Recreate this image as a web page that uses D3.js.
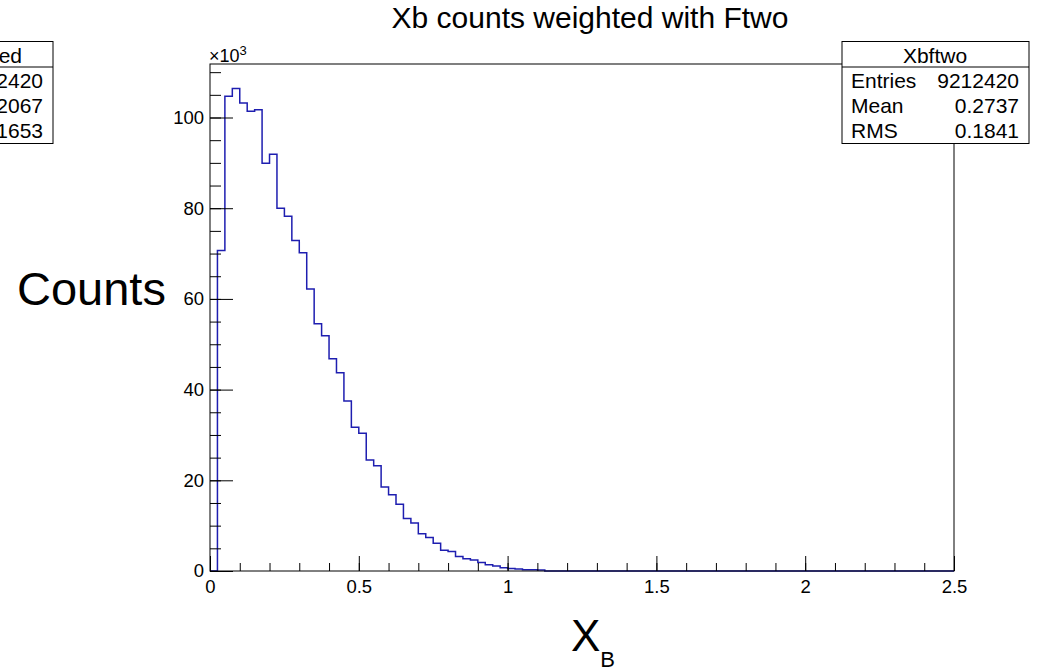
<!DOCTYPE html>
<html>
<head>
<meta charset="utf-8">
<script src="https://cdn.jsdelivr.net/npm/d3@7"></script>
<style>
  body { margin: 0; background: #fff; }
  svg { display: block; font-family: "Liberation Sans", Arial, sans-serif; }
</style>
</head>
<body>
<svg id="chart" width="1039" height="670"></svg>
<script>
// histogram: 100 bins from 0 to 2.5, counts in units of 10^3
var xRange = [0, 2.5];
var counts = [
    0, 70.7, 104.7, 106.4, 103.2, 101.4, 101.7, 89.9, 91.9, 80.0,
    78.2, 72.9, 70.2, 62.2, 54.5, 51.9, 46.8, 43.7, 37.5, 31.7,
    30.4, 24.5, 23.2, 18.5, 16.8, 14.7, 11.6, 10.6, 8.2, 7.4,
    6.1, 4.6, 4.3, 3.2, 2.7, 2.4, 1.9, 1.4, 1.1, 0.7,
    0.55, 0.45, 0.3, 0.25, 0.2, 0, 0, 0, 0, 0,
    0, 0, 0, 0, 0, 0, 0, 0, 0, 0,
    0, 0, 0, 0, 0, 0, 0, 0, 0, 0,
    0, 0, 0, 0, 0, 0, 0, 0, 0, 0,
    0, 0, 0, 0, 0, 0, 0, 0, 0, 0,
    0, 0, 0, 0, 0, 0, 0, 0, 0, 0
];
var xMajor = [0, 0.5, 1, 1.5, 2, 2.5];
var yMajor = [0, 20, 40, 60, 80, 100];
var statsLabels = ["Entries", "Mean", "RMS"];
var statsValues = ["9212420", "0.2737", "0.1841"];
var otherStats = ["9212420", "0.2067", "0.1653"];

var frame = {left: 210, right: 954, top: 64, bottom: 571};

var x = d3.scaleLinear().domain(xRange).range([frame.left, frame.right]);
var y = d3.scaleLinear().domain([0, 111.8]).range([frame.bottom, frame.top]);

var svg = d3.select("#chart");
var binW = (xRange[1] - xRange[0]) / counts.length;

// step line
var pts = counts.map(function(c, i) { return [xRange[0] + i * binW, c]; });
pts.push([xRange[1], counts[counts.length - 1]]);

var line = d3.line()
    .x(function(d) { return x(d[0]); })
    .y(function(d) { return y(d[1]); })
    .curve(d3.curveStepAfter);

svg.append("path")
    .datum(pts)
    .attr("d", line)
    .attr("fill", "none")
    .attr("stroke", "#1e1eb0")
    .attr("stroke-width", 1.5);

// frame
svg.append("rect")
    .attr("x", frame.left).attr("y", frame.top)
    .attr("width", frame.right - frame.left)
    .attr("height", frame.bottom - frame.top)
    .attr("fill", "none").attr("stroke", "#000");

// x axis
var xMinor = d3.range(0, 26).map(function(i) { return i / 10; });
svg.append("g")
    .attr("transform", "translate(0," + frame.bottom + ")")
    .call(d3.axisBottom(x).tickValues(xMinor).tickSize(-8).tickFormat(""))
    .call(function(g) { g.select(".domain").remove(); });
svg.append("g")
    .attr("class", "xaxis")
    .attr("transform", "translate(0," + frame.bottom + ")")
    .call(d3.axisBottom(x).tickValues(xMajor).tickSize(-15).tickPadding(9)
        .tickFormat(d3.format("~g")))
    .call(function(g) { g.select(".domain").remove(); });

// y axis
var yMinor = d3.range(0, 23).map(function(i) { return i * 5; });
svg.append("g")
    .attr("transform", "translate(" + frame.left + ",0)")
    .call(d3.axisLeft(y).tickValues(yMinor).tickSize(-11).tickFormat(""))
    .call(function(g) { g.select(".domain").remove(); });
svg.append("g")
    .attr("class", "yaxis")
    .attr("transform", "translate(" + frame.left + ",0)")
    .call(d3.axisLeft(y).tickValues(yMajor).tickSize(-23).tickPadding(6))
    .call(function(g) { g.select(".domain").remove(); });

svg.selectAll(".xaxis text, .yaxis text")
    .attr("font-size", 18.5)
    .attr("font-family", "Liberation Sans, Arial, sans-serif")
    .attr("fill", "#000");
svg.selectAll(".tick line").attr("stroke", "#000");

// x10^3
var mult = svg.append("text")
    .attr("x", 209).attr("y", 62)
    .attr("font-size", 18);
mult.append("tspan").text("\u00d710");
mult.append("tspan").attr("dy", -7).attr("font-size", 13).text("3");

// title
svg.append("text")
    .attr("x", 590).attr("y", 28)
    .attr("text-anchor", "middle")
    .attr("font-size", 30)
    .text("Xb counts weighted with Ftwo");

// axis titles
svg.append("text")
    .attr("x", 17).attr("y", 305)
    .attr("font-size", 47)
    .text("Counts");
var xt = svg.append("text")
    .attr("x", 571).attr("y", 651)
    .attr("font-size", 44);
xt.append("tspan").text("X");
xt.append("tspan").attr("dy", 16).attr("font-size", 22).text("B");

// stats boxes
function statsBox(left, width, title, labels, values, titleAnchorX, titleAnchor) {
    var g = svg.append("g");
    g.append("rect")
        .attr("x", left).attr("y", 41.5)
        .attr("width", width).attr("height", 102)
        .attr("fill", "#fff").attr("stroke", "#000");
    g.append("line")
        .attr("x1", left).attr("x2", left + width)
        .attr("y1", 67).attr("y2", 67)
        .attr("stroke", "#000");
    g.append("text")
        .attr("x", titleAnchorX).attr("y", 63)
        .attr("text-anchor", titleAnchor)
        .attr("font-size", 21)
        .text(title);
    values.forEach(function(v, i) {
        if (labels) {
            g.append("text")
                .attr("x", left + 9).attr("y", 88 + i * 25)
                .attr("font-size", 21)
                .text(labels[i]);
        }
        g.append("text")
            .attr("x", left + width - 10).attr("y", 88 + i * 25)
            .attr("text-anchor", "end")
            .attr("font-size", 21)
            .text(v);
    });
}
statsBox(842, 187, "Xbftwo", statsLabels, statsValues, 935, "middle");
statsBox(-134, 187, "ed", null, otherStats, 22, "end");
</script>
</body>
</html>
